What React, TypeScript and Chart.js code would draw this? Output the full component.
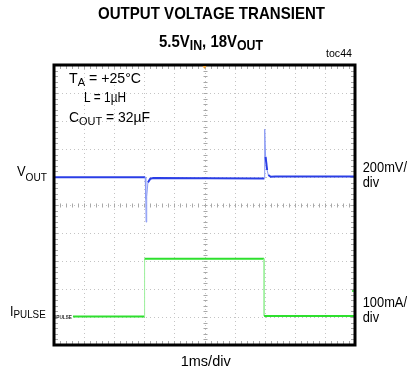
import React, { useEffect, useRef } from "react";
import { Chart, registerables } from "chart.js";

Chart.register(...registerables);

const W = 417;
const H = 372;

// Horizontal: time in divisions (1 ms/div). Vertical: screen divisions from bottom.
const voutTime = [0, 3.03, 3.05, 3.06, 3.08, 3.12, 3.2, 3.3, 6.99, 7.0, 7.03, 7.08, 7.12, 7.2, 7.35, 10];
const voutLevel = [5.99, 5.99, 5.2, 4.39, 5.3, 5.8, 5.94, 5.96, 5.95, 7.71, 6.72, 6.25, 6.07, 6.01, 6.02, 6.02];
const ipulseTime = [0.63, 3.01, 3.01, 6.98, 6.98, 10];
const ipulseLevel = [1.02, 1.02, 3.08, 3.08, 1.04, 1.04];
const markerTime = [9.93];
const markerLevel = [1.93];

const gridDivs = [1, 2, 3, 4, 5, 6, 7, 8, 9];

const BLUE = "#2a3ee6";
const BLUE_LIGHT = "#8c9cf5";
const GREEN = "#2ee02e";
const GREEN_LIGHT = "#9cf09c";
const FONT = '"Liberation Sans", Arial, Helvetica, sans-serif';

type Part = { t: string; sub?: boolean };

function drawRich(
  ctx: CanvasRenderingContext2D,
  parts: Part[],
  x: number,
  y: number,
  opts: { size: number; subSize?: number; subDy?: number; bold?: boolean; align?: "left" | "center" | "right"; width?: number; sx?: number; color?: string }
) {
  const w = opts.bold ? "bold " : "";
  const subSize = opts.subSize ?? opts.size * 0.78;
  const subDy = opts.subDy ?? 3;
  const fontMain = `${w}${opts.size}px ${FONT}`;
  const fontSub = `${w}${subSize}px ${FONT}`;
  let total = 0;
  for (const p of parts) {
    ctx.font = p.sub ? fontSub : fontMain;
    total += ctx.measureText(p.t).width;
  }
  const sx = opts.width ? opts.width / total : opts.sx ?? 1;
  const drawnW = total * sx;
  let x0 = x;
  if (opts.align === "center") x0 = x - drawnW / 2;
  else if (opts.align === "right") x0 = x - drawnW;
  ctx.save();
  ctx.translate(x0, y);
  ctx.scale(sx, 1);
  ctx.fillStyle = opts.color ?? "#000";
  ctx.textBaseline = "alphabetic";
  ctx.textAlign = "left";
  let cx = 0;
  for (const p of parts) {
    ctx.font = p.sub ? fontSub : fontMain;
    ctx.fillText(p.t, cx, p.sub ? subDy : 0);
    cx += ctx.measureText(p.t).width;
  }
  ctx.restore();
  return sx;
}

const scopePlugin = {
  id: "scope",
  beforeDatasetsDraw(chart: any) {
    const ctx: CanvasRenderingContext2D = chart.ctx;
    const { left, right, top, bottom } = chart.chartArea;
    const xs = chart.scales.x;
    const ys = chart.scales.y;
    ctx.save();
    ctx.fillStyle = "#fff";
    ctx.fillRect(left, top, right - left, bottom - top);
    ctx.strokeStyle = "#c4c4c4";
    ctx.lineWidth = 1;
    ctx.setLineDash([1, 3]);
    for (const v of gridDivs) {
      const px = Math.round(xs.getPixelForValue(v)) + 0.5;
      ctx.beginPath();
      ctx.moveTo(px, top);
      ctx.lineTo(px, bottom);
      ctx.stroke();
      const py = Math.round(ys.getPixelForValue(v)) + 0.5;
      ctx.beginPath();
      ctx.moveTo(left, py);
      ctx.lineTo(right, py);
      ctx.stroke();
    }
    ctx.setLineDash([]);
    // minor ticks along centre lines and frame
    ctx.strokeStyle = "#a8a8a8";
    const cxp = Math.round(xs.getPixelForValue(5)) + 0.5;
    const cyp = Math.round(ys.getPixelForValue(5)) + 0.5;
    for (let i = 1; i < 50; i++) {
      const v = i * 0.2;
      const px = Math.round(xs.getPixelForValue(v)) + 0.5;
      const py = Math.round(ys.getPixelForValue(v)) + 0.5;
      ctx.beginPath();
      ctx.moveTo(px, cyp - 2);
      ctx.lineTo(px, cyp + 2);
      ctx.moveTo(cxp - 2, py);
      ctx.lineTo(cxp + 2, py);
      ctx.moveTo(px, top + 1);
      ctx.lineTo(px, top + 4);
      ctx.moveTo(px, bottom - 1);
      ctx.lineTo(px, bottom - 4);
      ctx.moveTo(left + 1, py);
      ctx.lineTo(left + 4, py);
      ctx.moveTo(right - 1, py);
      ctx.lineTo(right - 4, py);
      ctx.stroke();
    }
    ctx.restore();
  },
  afterDatasetsDraw(chart: any) {
    const ctx: CanvasRenderingContext2D = chart.ctx;
    const { left, right, top, bottom } = chart.chartArea;
    const xs = chart.scales.x;
    ctx.save();
    // frame
    ctx.strokeStyle = "#000";
    ctx.lineWidth = 3;
    ctx.strokeRect(left, top, right - left, bottom - top);
    // trigger marker
    const mx = xs.getPixelForValue(5);
    ctx.fillStyle = "#f0a030";
    ctx.beginPath();
    ctx.moveTo(mx - 2, top + 1);
    ctx.lineTo(mx + 2, top + 1);
    ctx.lineTo(mx, top + 4);
    ctx.closePath();
    ctx.fill();

    // titles
    drawRich(ctx, [{ t: "OUTPUT VOLTAGE TRANSIENT" }], 211.5, 19, { size: 17, bold: true, align: "center", width: 227 });
    drawRich(
      ctx,
      [{ t: "5.5V" }, { t: "IN", sub: true }, { t: ", 18V" }, { t: "OUT", sub: true }],
      211,
      47,
      { size: 17, subSize: 14, subDy: 3, bold: true, align: "center", width: 104 }
    );
    drawRich(ctx, [{ t: "toc44" }], 352, 57, { size: 10, align: "right", width: 26 });

    // conditions
    drawRich(ctx, [{ t: "T" }, { t: "A", sub: true }, { t: " = +25°C" }], 69, 83.3, { size: 14, subSize: 11, subDy: 3, align: "left", width: 72 });
    drawRich(ctx, [{ t: "L = 1µH" }], 84, 102, { size: 14, align: "left", width: 42 });
    drawRich(ctx, [{ t: "C" }, { t: "OUT", sub: true }, { t: " = 32µF" }], 69, 122, { size: 14, subSize: 11, subDy: 2.5, align: "left", width: 81 });

    // channel labels
    drawRich(ctx, [{ t: "V" }, { t: "OUT", sub: true }], 17, 176, { size: 14, subSize: 11, subDy: 5, align: "left", width: 30 });
    drawRich(ctx, [{ t: "I" }, { t: "PULSE", sub: true }], 10, 315.7, { size: 14, subSize: 11, subDy: 2.6, align: "left", width: 35.7 });
    drawRich(ctx, [{ t: "IPULSE" }], 55, 319, { size: 5, bold: true, align: "left", width: 17, color: "#333" });

    const sx = drawRich(ctx, [{ t: "200mV/" }], 362.7, 171.7, { size: 14, align: "left", width: 44.3 });
    drawRich(ctx, [{ t: "div" }], 362.7, 186.7, { size: 14, align: "left", sx });
    drawRich(ctx, [{ t: "100mA/" }], 362.7, 306.7, { size: 14, align: "left", width: 44.3 });
    drawRich(ctx, [{ t: "div" }], 362.7, 321.7, { size: 14, align: "left", sx });

    drawRich(ctx, [{ t: "1ms/div" }], 205.7, 365.7, { size: 14, align: "center", width: 50 });
    ctx.restore();
  },
};

function segWidth(c: any) {
  return Math.abs(c.p1.x - c.p0.x) < 1.5 ? 1 : 2;
}

export default function App() {
  const ref = useRef<HTMLCanvasElement | null>(null);
  useEffect(() => {
    const canvas = ref.current;
    if (!canvas) return;
    const chart = new Chart(canvas, {
      type: "scatter",
      data: {
        datasets: [
          {
            label: "VOUT",
            data: voutTime.map((x, i) => ({ x, y: voutLevel[i] })),
            showLine: true,
            borderColor: BLUE,
            borderWidth: 2,
            pointRadius: 0,
            segment: {
              borderWidth: segWidth,
              borderColor: (c: any) => (Math.abs(c.p1.x - c.p0.x) < 1.5 ? BLUE_LIGHT : BLUE),
            },
          },
          {
            label: "IPULSE",
            data: ipulseTime.map((x, i) => ({ x, y: ipulseLevel[i] })),
            showLine: true,
            borderColor: GREEN,
            borderWidth: 2,
            pointRadius: 0,
            segment: {
              borderWidth: segWidth,
              borderColor: (c: any) => (Math.abs(c.p1.x - c.p0.x) < 1.5 ? GREEN_LIGHT : GREEN),
            },
          },
          {
            label: "marker",
            data: markerTime.map((x, i) => ({ x, y: markerLevel[i] })),
            showLine: false,
            pointRadius: 1,
            pointBorderWidth: 0,
            backgroundColor: GREEN,
          },
        ],
      } as any,
      options: {
        responsive: false,
        animation: false,
        devicePixelRatio: 1,
        events: [],
        layout: { padding: { left: 54, right: W - 355, top: 65, bottom: H - 345 } },
        scales: {
          x: { type: "linear", min: 0, max: 10, display: false },
          y: { type: "linear", min: 0, max: 10, display: false },
        },
        plugins: { legend: { display: false }, tooltip: { enabled: false }, title: { display: false } },
      } as any,
      plugins: [scopePlugin],
    });
    return () => chart.destroy();
  }, []);
  return (
    <div style={{ position: "absolute", left: 0, top: 0, width: W, height: H, background: "#fff" }}>
      <canvas ref={ref} width={W} height={H} style={{ display: "block", width: W, height: H }} />
    </div>
  );
}
